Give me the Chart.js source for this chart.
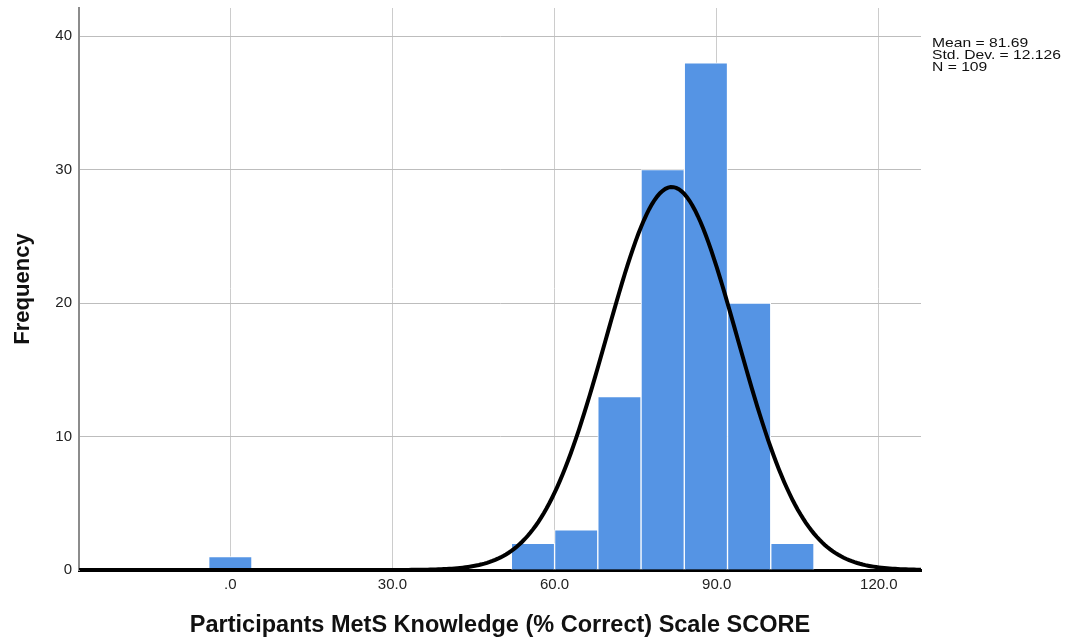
<!DOCTYPE html>
<html>
<head>
<meta charset="utf-8">
<script src="https://cdn.jsdelivr.net/npm/chart.js@4"></script>
<style>
  html, body { margin: 0; padding: 0; background: #fff; }
  #wrap { width: 1069px; height: 641px; }
</style>
</head>
<body>
<div id="wrap"><canvas id="histChart"></canvas></div>
<script>
// histogram bins (centre of each 8-point bin) and counts
const binCenters = [0, 56, 64, 72, 80, 88, 96, 104];
const binCounts = [1, 2, 3, 13, 30, 38, 20, 2];
const binWidth = 8;

// x ticks and their labels
const xTicks = [0, 30, 60, 90, 120];
const xTickLabels = ['.0', '30.0', '60.0', '90.0', '120.0'];
const yTicks = [0, 10, 20, 30, 40];

// summary stats printed on the chart
const statMean = 81.69;
const statSD = 12.126;
const statN = 109;
const statLines = ['Mean = 81.69', 'Std. Dev. = 12.126', 'N = 109'];

// fitted normal curve (scaled to counts per bin)
const curveX = [];
for (let x = -28; x <= 128; x += 0.5) curveX.push(x);
const curvePoints = curveX.map(x => ({
    x: x,
    y: statN * binWidth / (statSD * Math.sqrt(2 * Math.PI)) *
       Math.exp(-0.5 * Math.pow((x - statMean) / statSD, 2))
}));

const statsBox = {
    id: 'statsBox',
    afterDraw(chart) {
        const ctx = chart.ctx;
        ctx.save();
        ctx.translate(932, 0);
        ctx.scale(1.16, 1);   // source text is a bit stretched sideways
        ctx.font = '13.5px "Liberation Sans", Arial, sans-serif';
        ctx.fillStyle = '#111';
        ctx.textBaseline = 'alphabetic';
        statLines.forEach((line, i) => {
            ctx.fillText(line, 0, 47 + i * 12.2);
        });
        ctx.restore();
    }
};

new Chart(document.getElementById('histChart'), {
    type: 'bar',
    data: {
        datasets: [{
            type: 'line',
            data: curvePoints,
            borderColor: '#000',
            borderWidth: 4,
            pointRadius: 0,
            fill: false,
            tension: 0,
            order: 0
        }, {
            data: binCenters.map((c, i) => ({ x: c, y: binCounts[i] })),
            backgroundColor: '#5594e4',
            borderColor: '#ffffff',
            borderWidth: 1,
            barPercentage: 1,
            categoryPercentage: 1,
            order: 1
        }]
    },
    options: {
        responsive: true,
        maintainAspectRatio: false,
        animation: false,
        layout: {
            padding: { top: 8, right: 148, left: 0, bottom: 0 }
        },
        plugins: {
            legend: { display: false },
            tooltip: { enabled: false }
        },
        scales: {
            x: {
                type: 'linear',
                min: -28,
                max: 127.8,
                offset: false,
                afterBuildTicks: scale => {
                    scale.ticks = xTicks.map(v => ({ value: v }));
                },
                afterFit: scale => {
                    scale.height = 71;
                    scale.paddingLeft = 0;
                    scale.paddingRight = 0;
                },
                ticks: {
                    padding: 6,
                    color: '#222',
                    font: { size: 15, family: '"Liberation Sans", Arial, sans-serif' },
                    maxRotation: 0,
                    callback: v => xTickLabels[xTicks.indexOf(v)]
                },
                grid: {
                    color: '#cccccc',
                    lineWidth: 1,
                    drawTicks: false,
                    offset: false
                },
                border: { color: '#000', width: 3 },
                title: {
                    display: true,
                    text: 'Participants MetS Knowledge (% Correct) Scale SCORE',
                    color: '#111',
                    font: { size: 23.5, weight: 'bold', family: '"Liberation Sans", Arial, sans-serif' },
                    padding: { top: 0, bottom: 1 }
                }
            },
            y: {
                min: 0,
                max: 42.1,
                afterBuildTicks: scale => {
                    scale.ticks = yTicks.map(v => ({ value: v }));
                },
                afterFit: scale => {
                    scale.width = 79;
                    scale.paddingTop = 0;
                    scale.paddingBottom = 0;
                },
                ticks: {
                    padding: 7,
                    color: '#222',
                    font: { size: 15, family: '"Liberation Sans", Arial, sans-serif' }
                },
                grid: {
                    color: '#bdbdbd',
                    lineWidth: 1,
                    drawTicks: false
                },
                border: { color: '#8c8c8c', width: 2 },
                title: {
                    display: true,
                    text: 'Frequency',
                    color: '#111',
                    font: { size: 22, weight: 'bold', family: '"Liberation Sans", Arial, sans-serif' },
                    padding: { top: 10, bottom: 0 }
                }
            }
        }
    },
    plugins: [statsBox]
});
</script>
</body>
</html>
